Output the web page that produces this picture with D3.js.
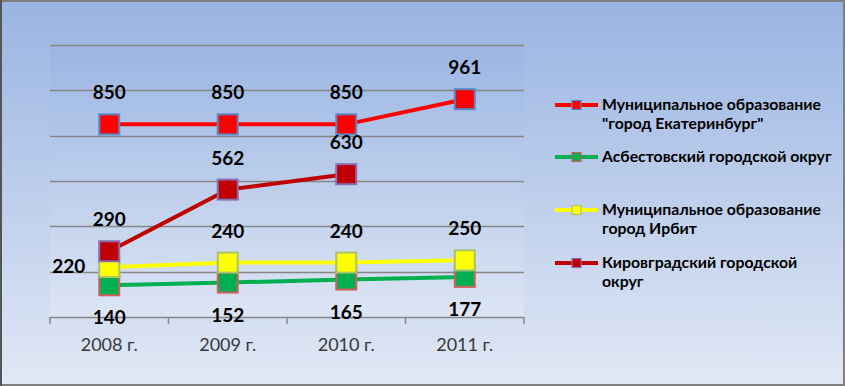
<!DOCTYPE html>
<html>
<head>
	<meta charset="utf-8" />
	<title>Chart</title>
	<style>
		body { margin: 0; }
		svg { display: block; }
	</style>
</head>
<body>
	<div id="chart"></div>
	<script src="https://cdn.jsdelivr.net/npm/d3@7"></script>
	<script>
		// data
		var years = ["2008 г.", "2009 г.", "2010 г.", "2011 г."];
		var seriesNames = [
			["Муниципальное образование", "\"город Екатеринбург\""],
			["Асбестовский городской округ"],
			["Муниципальное образование", "город Ирбит"],
			["Кировградский городской", "округ"]
		];
		var ekb = [850, 850, 850, 961];
		var asbest = [140, 152, 165, 177];
		var irbit = [220, 240, 240, 250];
		var kirov = [290, 562, 630, null];
		var gridValues = [200, 400, 600, 800, 1000, 1200];

		var W = 845, H = 386;
		var font = "Lato, 'Noto Sans', sans-serif";

		// look of each series
		var styles = [
			{ line: "#ff0000", fill: "#ff0000", edge: "#5b86c4", label: ["top", "top", "top", "top"] },
			{ line: "#00b050", fill: "#00b050", edge: "#d06060", label: ["bottom", "bottom", "bottom", "bottom"] },
			{ line: "#ffff00", fill: "#ffff00", edge: "#a8c46a", label: ["left", "top", "top", "top"] },
			{ line: "#c00000", fill: "#c00000", edge: "#8a6cb0", label: ["top", "top", "top", "top"] }
		];
		var values = [ekb, asbest, irbit, kirov];

		var svg = d3.select("#chart").append("svg")
			.attr("width", W).attr("height", H);
		var defs = svg.append("defs");

		var g1 = defs.append("linearGradient").attr("id", "bg")
			.attr("x1", 0).attr("y1", 0).attr("x2", 0).attr("y2", 1);
		g1.append("stop").attr("offset", "0%").attr("stop-color", "#99b4e2");
		g1.append("stop").attr("offset", "100%").attr("stop-color", "#e1e8f5");

		var g2 = defs.append("linearGradient").attr("id", "plotbg")
			.attr("x1", 0).attr("y1", 0).attr("x2", 0).attr("y2", 1);
		g2.append("stop").attr("offset", "0%").attr("stop-color", "#9bb6e3");
		g2.append("stop").attr("offset", "100%").attr("stop-color", "#dde5f4");

		// chart area
		svg.append("rect").attr("x", 0).attr("y", 0).attr("width", W).attr("height", H)
			.attr("fill", "url(#bg)");
		svg.append("rect").attr("x", 1).attr("y", 1).attr("width", W - 2).attr("height", H - 2)
			.attr("fill", "none").attr("stroke", "#7f7f7f").attr("stroke-width", 2);
		svg.append("line").attr("x1", 1).attr("x2", 1).attr("y1", 0).attr("y2", H)
			.attr("stroke", "#555").attr("stroke-width", 2);

		var x = d3.scaleBand().domain(years).range([50, 524]).padding(0);
		var y = d3.scaleLinear().domain([0, 1200]).range([317, 45]);

		// plot area
		svg.append("rect").attr("x", 50).attr("y", y(1200))
			.attr("width", 474).attr("height", y(0) - y(1200))
			.attr("fill", "url(#plotbg)");

		svg.append("g").selectAll("line").data(gridValues).join("line")
			.attr("x1", 50).attr("x2", 524)
			.attr("y1", function(d) { return Math.round(y(d)) + 0.5; })
			.attr("y2", function(d) { return Math.round(y(d)) + 0.5; })
			.attr("stroke", "#868686").attr("stroke-width", 1.5);

		// x axis
		var xAxis = svg.append("g").attr("transform", "translate(0," + y(0) + ")")
			.call(d3.axisBottom(x).tickSize(0).tickPadding(21));
		xAxis.select(".domain").remove();
		xAxis.selectAll("text")
			.attr("font-family", font).attr("font-size", 18).attr("fill", "#383838");
		svg.append("line").attr("x1", 50).attr("x2", 524)
			.attr("y1", y(0) + 0.5).attr("y2", y(0) + 0.5)
			.attr("stroke", "#868686").attr("stroke-width", 1.5);
		var edges = years.map(function(d) { return x(d); }).concat([x.range()[1]]);
		svg.append("g").selectAll("line").data(edges).join("line")
			.attr("x1", function(d) { return d; }).attr("x2", function(d) { return d; })
			.attr("y1", y(0)).attr("y2", y(0) + 7)
			.attr("stroke", "#868686").attr("stroke-width", 1.5);

		var cx = function(i) { return x(years[i]) + x.bandwidth() / 2; };

		// series
		values.forEach(function(vals, s) {
			var st = styles[s];
			var pts = vals.map(function(v, i) { return { i: i, v: v }; })
				.filter(function(p) { return p.v != null; });
			var line = d3.line()
				.x(function(p) { return cx(p.i); })
				.y(function(p) { return y(p.v); });
			var g = svg.append("g");
			g.append("path").datum(pts).attr("d", line)
				.attr("fill", "none").attr("stroke", st.line).attr("stroke-width", 4);
			g.selectAll("rect").data(pts).join("rect")
				.attr("x", function(p) { return cx(p.i) - 10; })
				.attr("y", function(p) { return y(p.v) - 10; })
				.attr("width", 20).attr("height", 20)
				.attr("fill", st.fill).attr("stroke", st.edge).attr("stroke-width", 2);
		});

		// data labels
		values.forEach(function(vals, s) {
			var st = styles[s];
			vals.forEach(function(v, i) {
				if (v == null) return;
				var pos = st.label[i];
				var t = svg.append("text").text(v)
					.attr("font-family", font).attr("font-size", 19).attr("font-weight", "bold")
					.attr("fill", "#000");
				if (pos == "top") {
					t.attr("x", cx(i)).attr("y", y(v) - 25).attr("text-anchor", "middle");
				} else if (pos == "bottom") {
					t.attr("x", cx(i)).attr("y", y(v) + 39).attr("text-anchor", "middle");
				} else {
					t.attr("x", cx(i) - 24).attr("y", y(v) + 6).attr("text-anchor", "end");
				}
			});
		});

		// legend
		var legendY = [105, 157, 210, 263];
		var legend = svg.append("g");
		seriesNames.forEach(function(name, s) {
			var st = styles[s];
			var ly = legendY[s];
			legend.append("line").attr("x1", 555).attr("x2", 598)
				.attr("y1", ly).attr("y2", ly)
				.attr("stroke", st.line).attr("stroke-width", 4);
			legend.append("rect").attr("x", 572).attr("y", ly - 4.5)
				.attr("width", 9).attr("height", 9)
				.attr("fill", st.fill).attr("stroke", st.edge).attr("stroke-width", 1.2);
			name.forEach(function(txt, k) {
				legend.append("text").text(txt)
					.attr("x", 602).attr("y", ly + 5 + k * 19)
					.attr("font-family", font).attr("font-size", 15.8).attr("font-weight", "bold")
					.attr("fill", "#000");
			});
		});
	</script>
</body>
</html>
